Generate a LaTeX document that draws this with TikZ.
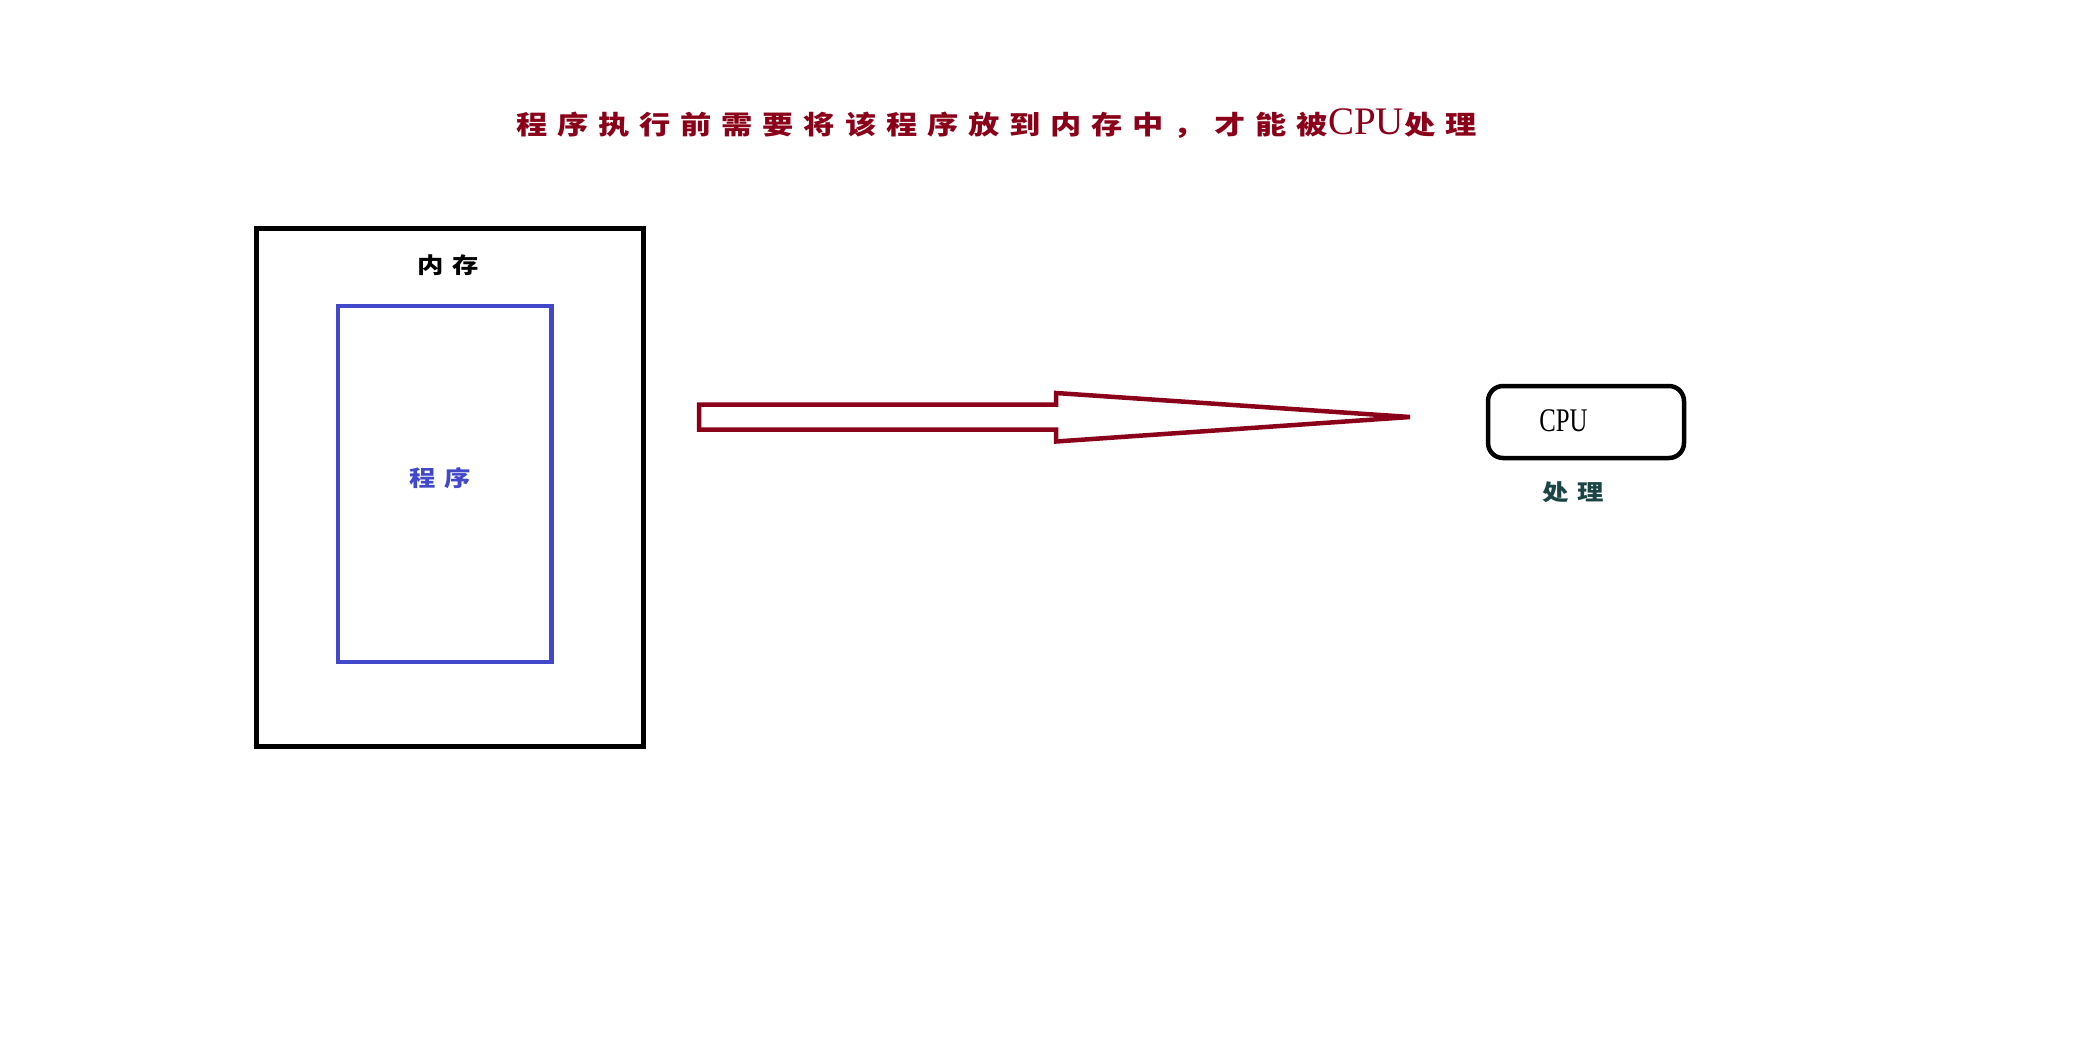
\documentclass[tikz,border=0pt]{standalone}
\usepackage{fontspec}
\usepackage{graphicx}
\setmainfont{Liberation Serif}
\newfontfamily\cjk[LetterSpace=38,FakeStretch=1.2]{Noto Sans CJK SC}
\definecolor{darkred}{HTML}{8B0018}
\definecolor{progblue}{HTML}{4148CA}
\definecolor{proctext}{HTML}{1B4545}
\tikzset{
	membox/.style={draw=black, line width=2.85pt, minimum width=7.75cm, minimum height=10.36cm, inner sep=0pt},
	progbox/.style={draw=progblue, line width=2.56pt, minimum width=4.27cm, minimum height=7.12cm, inner sep=0pt},
	cpubox/.style={draw=black, line width=2.56pt, rounded corners=0.3cm, minimum width=3.92cm, minimum height=1.44cm, inner sep=0pt},
	cntext/.style={inner sep=0pt, anchor=west, font=\cjk\bfseries\fontsize{12.5pt}{14pt}\selectfont}
}

\begin{document}
\begin{tikzpicture}[x=0.02cm, y=-0.02cm]
				\useasboundingbox (0, 0) rectangle (2085, 1049);
				
				\node[inner sep=0pt, anchor=base west, text=darkred] (title) at (516, 134) {{\cjk\bfseries\fontsize{14.8pt}{18pt}\selectfont 程序执行前需要将该程序放到内存中，才能被}{\fontsize{22.2pt}{26pt}\selectfont CPU}{\cjk\bfseries\fontsize{14.8pt}{18pt}\selectfont 处理}};
				
				\node[membox] (mem) at (450.25, 487.5) {};
				\node[cntext] (memtext) at (417, 265) {内存};
				
				\node[progbox] (prog) at (444.75, 484) {};
				\node[cntext, text=progblue] (progtext) at (409, 478) {程序};
				
				\draw[line width=2.56pt, draw=darkred] (699, 404.5) -- (1056, 404.5) -- (1056, 393) -- (1410, 417) -- (1056, 441.5) -- (1056, 429.5) -- (699, 429.5) -- cycle;
				
				\node[cpubox] (cpu) at (1586, 422) {};
				\node[inner sep=0pt, anchor=west, font=\fontsize{18.8pt}{22pt}\selectfont] (cputext) at (1539, 421) {\scalebox{0.75}[1]{CPU}};
				\node[cntext, text=proctext] (proc) at (1542, 492) {处理};
			\end{tikzpicture}
\end{document}
